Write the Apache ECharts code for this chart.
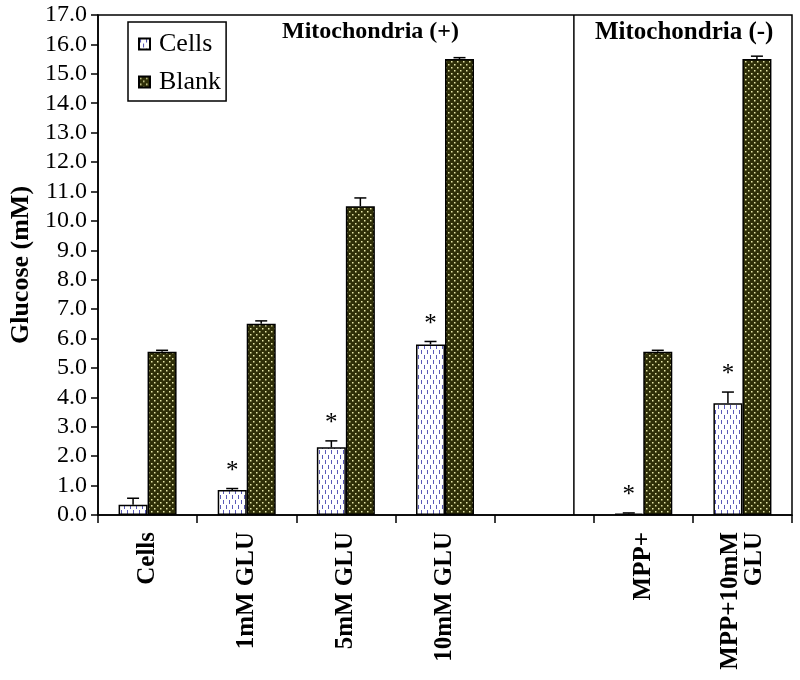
<!DOCTYPE html>
<html><head><meta charset="utf-8">
<script src="https://cdn.jsdelivr.net/npm/echarts@6/dist/echarts.min.js"></script>
<style>html,body{margin:0;padding:0;background:#fff}#c{width:800px;height:680px}</style>
</head><body><div id="c"></div>
<script>
var categories = ['Cells', '1mM GLU', '5mM GLU', '10mM GLU', '', 'MPP+', 'MPP+10mM\nGLU'];
var cellsMean  = [0.35, 0.85, 2.3, 5.8, null, 0.05, 3.8];
var cellsErr   = [0.22, 0.05, 0.22, 0.1, null, 0.02, 0.38];
var blankMean  = [5.55, 6.5, 10.5, 15.5, null, 5.55, 15.5];
var blankErr   = [0.05, 0.1, 0.28, 0.05, null, 0.05, 0.1];
var significant = [false, true, true, true, false, true, true];
var groupTitles = ['Mitochondria (+)', 'Mitochondria (-)'];
var yTicks = {min: 0, max: 17, interval: 1};
var dividerAt = 4.8;

var FONT = '"Liberation Serif", "Times New Roman", serif';
var BAR_W = 29;

function makePattern(kind) {
  var c = document.createElement('canvas');
  var ctx;
  if (kind === 'cells') {
    c.width = 6; c.height = 10;
    ctx = c.getContext('2d');
    ctx.fillStyle = '#ffffff'; ctx.fillRect(0, 0, 6, 10);
    ctx.fillStyle = '#5a5ab8';
    ctx.fillRect(1, 0, 1, 4);
    ctx.fillRect(4, 5, 1, 4);
  } else {
    c.width = 6; c.height = 6;
    ctx = c.getContext('2d');
    ctx.fillStyle = '#2f2f08'; ctx.fillRect(0, 0, 6, 6);
    ctx.fillStyle = '#e6e6a8';
    ctx.fillRect(1, 1, 1.5, 1.5);
    ctx.fillRect(4, 4, 1.5, 1.5);
  }
  return {image: c, repeat: 'repeat'};
}
var cellsPattern = makePattern('cells');
var blankPattern = makePattern('blank');

function errData(means, errs, withSig) {
  var out = [];
  for (var i = 0; i < means.length; i++) {
    if (means[i] == null) continue;
    out.push([i, means[i], errs[i], withSig && significant[i] ? 1 : 0]);
  }
  return out;
}

function errRenderer(offset) {
  return function (params, api) {
    var idx = api.value(0), m = api.value(1), e = api.value(2), sig = api.value(3);
    var p0 = api.coord([idx, m]);
    var p1 = api.coord([idx, m + e]);
    var x = p0[0] + offset;
    var st = {stroke: '#000', lineWidth: 1.5};
    var kids = [
      {type: 'line', shape: {x1: x, y1: p0[1], x2: x, y2: p1[1]}, style: st},
      {type: 'line', shape: {x1: x - 6, y1: p1[1], x2: x + 6, y2: p1[1]}, style: st}
    ];
    if (sig) {
      kids.push({type: 'text', style: {text: '*', x: x, y: p1[1] - 5, align: 'center', verticalAlign: 'bottom',
        font: '25px ' + FONT, fill: '#000'}});
    }
    return {type: 'group', children: kids};
  };
}

var chart = echarts.init(document.getElementById('c'));
chart.setOption({
  animation: false,
  backgroundColor: '#fff',
  title: [
    {text: groupTitles[0], left: 282, top: 20, padding: 0,
     textStyle: {fontFamily: FONT, fontWeight: 'bold', fontSize: 24, color: '#000'}},
    {text: groupTitles[1], left: 595, top: 20, padding: 0,
     textStyle: {fontFamily: FONT, fontWeight: 'bold', fontSize: 25, color: '#000'}}
  ],
  legend: {
    orient: 'vertical', left: 128, top: 22,
    padding: [9, 5, 6, 10], itemGap: 12,
    borderColor: '#000', borderWidth: 1.5,
    itemWidth: 11, itemHeight: 11, icon: 'rect',
    textStyle: {fontFamily: FONT, fontSize: 26, color: '#000', padding: [0, 0, 0, 4]},
    data: ['Cells', 'Blank']
  },
  grid: {left: 98, right: 8, top: 15, bottom: 165, show: true, borderColor: '#000', borderWidth: 1.5, containLabel: false},
  xAxis: [{
    type: 'category', data: categories,
    axisLine: {lineStyle: {color: '#000', width: 1.5}},
    axisTick: {show: true, length: 8, lineStyle: {color: '#000', width: 1.5}},
    axisLabel: {interval: 0, rotate: 90, margin: 17, fontFamily: FONT, fontWeight: 'bold', fontSize: 25, color: '#000', lineHeight: 24}
  }, {
    type: 'value', min: 0, max: categories.length, show: false
  }],
  yAxis: {
    type: 'value', min: yTicks.min, max: yTicks.max, interval: yTicks.interval,
    name: 'Glucose (mM)', nameLocation: 'middle', nameGap: 62,
    nameTextStyle: {fontFamily: FONT, fontWeight: 'bold', fontSize: 26, color: '#000'},
    axisLine: {show: true, lineStyle: {color: '#000', width: 1.5}},
    axisTick: {show: true, length: 7, lineStyle: {color: '#000', width: 1.5}},
    splitLine: {show: false},
    axisLabel: {margin: 11, fontFamily: FONT, fontSize: 24, color: '#000',
      formatter: function (v) { return v.toFixed(1); }}
  },
  series: [
    {name: 'Cells', type: 'bar', data: cellsMean, barWidth: BAR_W, barGap: '0%',
     itemStyle: {color: cellsPattern, borderColor: '#000', borderWidth: 1.5}},
    {name: 'Blank', type: 'bar', data: blankMean, barWidth: BAR_W, barGap: '0%',
     itemStyle: {color: blankPattern, borderColor: '#000', borderWidth: 1.5}},
    {type: 'custom', z: 5, renderItem: errRenderer(-BAR_W / 2), data: errData(cellsMean, cellsErr, true),
     encode: {x: 0, y: 1}, silent: true},
    {type: 'custom', z: 5, renderItem: errRenderer(BAR_W / 2), data: errData(blankMean, blankErr, false),
     encode: {x: 0, y: 1}, silent: true},
    {type: 'custom', xAxisIndex: 1, z: 4, silent: true, data: [[dividerAt]],
     encode: {x: 0},
     renderItem: function (params, api) {
       var a = api.coord([api.value(0), yTicks.min]);
       var b = api.coord([api.value(0), yTicks.max]);
       return {type: 'line', shape: {x1: a[0], y1: a[1], x2: b[0], y2: b[1]}, style: {stroke: '#000', lineWidth: 1.5}};
     }}
  ]
});
</script></body></html>
